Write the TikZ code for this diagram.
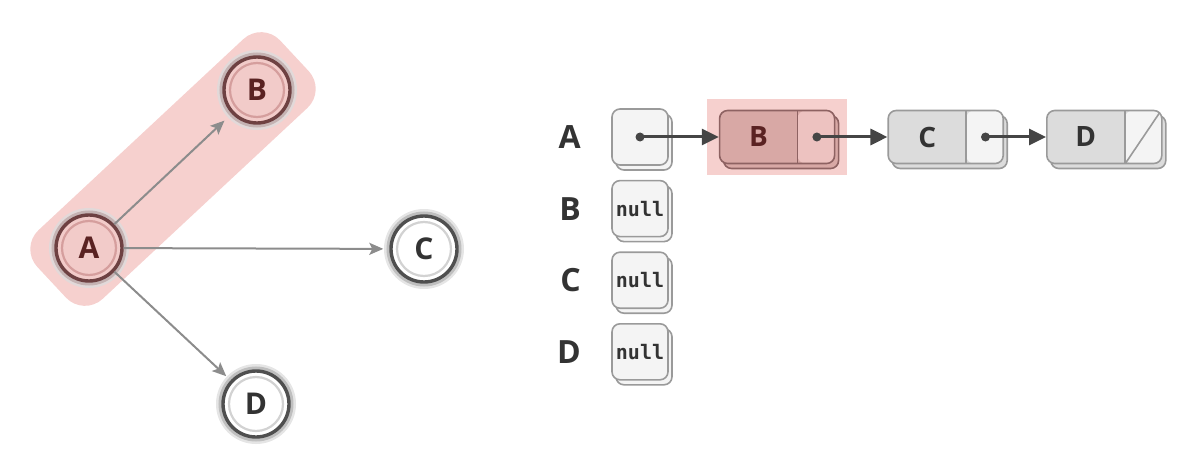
\documentclass[tikz,border=0pt]{standalone}
\usepackage{fontspec}
\setmainfont{Open Sans}
\setmonofont{DejaVu Sans Mono}
\usetikzlibrary{arrows.meta, positioning, fit, backgrounds, shadows, calc}

\definecolor{bandpink}{HTML}{F6D0CE}
\definecolor{vertpink}{HTML}{F2CBC9}
\definecolor{ringred}{HTML}{6E4142}
\definecolor{ringlightred}{HTML}{D59E9D}
\definecolor{ringgray}{HTML}{4F4F4F}
\definecolor{ringlight}{HTML}{D2D2D2}
\definecolor{edgegray}{HTML}{9A9A9A}
\definecolor{edgered}{HTML}{8E6262}
\definecolor{arrowgray}{HTML}{8C8C8C}
\definecolor{arrowdark}{HTML}{454545}
\definecolor{cellface}{HTML}{F4F4F4}
\definecolor{datagray}{HTML}{DCDCDC}
\definecolor{datapink}{HTML}{D8A8A5}
\definecolor{ptrpink}{HTML}{EDC2C0}
\definecolor{textdark}{HTML}{333333}
\definecolor{textred}{HTML}{5A2222}

\begin{document}
\begin{tikzpicture}[
    x=0.5pt, y=-0.5pt,
    every node/.style={font=\bfseries\fontsize{15}{18}\selectfont, text=textdark},
    vertex/.style={circle, draw=ringgray, line width=1.7pt, fill=white,
        minimum size=33pt, inner sep=0pt,
        preaction={draw=black!10, line width=7pt},
        preaction={draw=black!25, line width=4.5pt},
        path picture={\draw[ringlight, line width=1.1pt]
            (path picture bounding box.center) circle (13.5pt);}},
    hlvertex/.style={circle, draw=ringred, line width=1.7pt, fill=vertpink,
        minimum size=33pt, inner sep=0pt, text=textred,
        preaction={draw=ringred!20, line width=7pt},
        preaction={draw=ringred!40, line width=4.5pt},
        path picture={\draw[ringlightred, line width=1.1pt]
            (path picture bounding box.center) circle (13.5pt);}},
    band/.style={fill=bandpink, rounded corners=13pt,
        minimum width=166pt, minimum height=47pt},
    graphedge/.style={-{Stealth[length=7pt, width=6pt, inset=1.5pt]},
        line width=1pt, draw=arrowgray, shorten >=3pt},
    rowlabel/.style={inner sep=0pt, font=\bfseries\fontsize{16}{18}\selectfont},
    arraycell/.style={draw=edgegray, line width=0.8pt, rounded corners=4pt,
        fill=cellface, minimum size=28pt, inner sep=0pt,
        font=\ttfamily\bfseries\fontsize{10}{12}\selectfont,
        copy shadow={shadow xshift=2pt, shadow yshift=-2.5pt}},
    listcell/.style n args={3}{draw=#3, line width=0.8pt, rounded corners=4pt,
        fill=#1, minimum width=57.5pt, minimum height=26.5pt, inner sep=0pt,
        font=\bfseries\fontsize{14}{16}\selectfont,
        copy shadow={shadow xshift=2pt, shadow yshift=-2.5pt},
        path picture={
            \fill[#2] ([xshift=-18.5pt]path picture bounding box.north east)
                rectangle (path picture bounding box.south east);
            \draw[#3, line width=0.8pt]
                ([xshift=-18.5pt]path picture bounding box.north east) --
                ([xshift=-18.5pt]path picture bounding box.south east);}},
    hlbox/.style={fill=bandpink, inner xsep=6pt, inner ysep=5.5pt},
    ptrdot/.style={circle, fill=arrowdark, inner sep=0pt, minimum size=4.5pt},
    listarrow/.style={-{Triangle[length=8.5pt, width=8pt]},
        line width=1.5pt, draw=arrowdark}
]
\useasboundingbox (0,0) rectangle (1188,465);

% Graph
\node[hlvertex] (A) at (89,248) {A};
\node[hlvertex] (B) at (257,90) {B};
\node[vertex] (C) at (424,249) {C};
\node[vertex] (D) at (256,404) {D};

\begin{scope}[on background layer]
\node[band, rotate=43] (hlAB) at ($(A)!0.5!(B)$) {};
\end{scope}

\draw[graphedge, shorten >=5pt] (A) -- (B);
\draw[graphedge] (A) -- (C);
\draw[graphedge] (A) -- (D);

% Adjacency list
\node[arraycell] (cellA) at (640,137) {};
\node[arraycell, below=7pt of cellA] (cellB) {null};
\node[arraycell, below=7pt of cellB] (cellC) {null};
\node[arraycell, below=7pt of cellC] (cellD) {null};

\node[rowlabel, left=15pt of cellA] (labA) {A};
\node[rowlabel, left=15pt of cellB] (labB) {B};
\node[rowlabel, left=15pt of cellC] (labC) {C};
\node[rowlabel, left=15pt of cellD] (labD) {D};

\node[listcell={datapink}{ptrpink}{edgered}, text=textred,
      right=25pt of cellA] (Bnode) {B\hspace*{18.5pt}};
\node[listcell={datagray}{cellface}{edgegray},
      right=26pt of Bnode] (Cnode) {C\hspace*{18.5pt}};
\node[listcell={datagray}{cellface}{edgegray},
      right=21pt of Cnode] (Dnode) {D\hspace*{18.5pt}};

% null pointer of D
\draw[edgegray, line width=0.8pt] ([xshift=-18.5pt, yshift=0.6pt]Dnode.south east)
    -- ([xshift=-1.5pt, yshift=-1.5pt]Dnode.north east);

\begin{scope}[on background layer]
\node[hlbox, fit=(Bnode)] (hlB) {};
\end{scope}

% Pointers
\node[ptrdot] (dotA) at (cellA.center) {};
\node[ptrdot] (dotB) at ([xshift=-9.25pt]Bnode.east) {};
\node[ptrdot] (dotC) at ([xshift=-9.25pt]Cnode.east) {};

\draw[listarrow] (dotA.center) -- (Bnode.west);
\draw[listarrow] (dotB.center) -- (Cnode.west);
\draw[listarrow] (dotC.center) -- (Dnode.west);

\end{tikzpicture}
\end{document}
